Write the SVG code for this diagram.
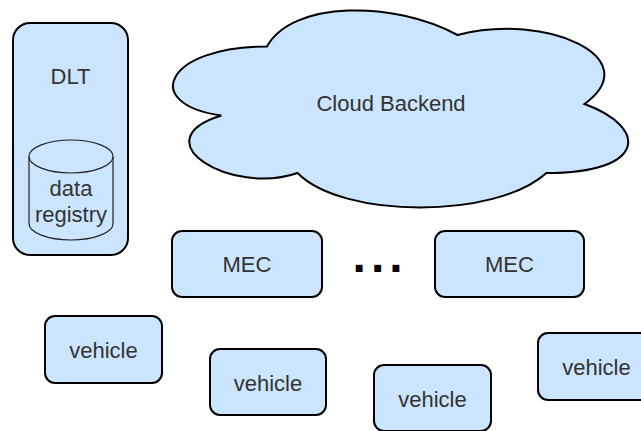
<svg xmlns="http://www.w3.org/2000/svg" width="641" height="431" viewBox="0 0 641 431">
  <style>
    .box { fill: #cce5ff; stroke: #000; stroke-width: 2; }
    .cyl { fill: #cce5ff; stroke: #222; stroke-width: 1.2; }
    .lbl { font-family: "Liberation Sans", Arial, sans-serif; font-size: 22px; fill: #333; text-anchor: middle; }
    .dots { font-family: "Liberation Sans", Arial, sans-serif; font-size: 48px; font-weight: bold; fill: #000; letter-spacing: 5px; }
  </style>
  <rect width="641" height="431" fill="#fff"/>

  <g id="dlt">
    <rect class="box" x="13" y="23" width="115" height="232" rx="17" ry="17"/>
    <text class="lbl" x="70.5" y="84">DLT</text>
  </g>

  <g id="data-registry">
    <path class="cyl" d="M29,156.5 A42,16.5 0 0 1 113,156.5 L113,223.5 A42,16.5 0 0 1 29,223.5 Z"/>
    <path class="cyl" fill="none" d="M29,156.5 A42,16.5 0 0 0 113,156.5"/>
    <text class="lbl" x="71" y="196">data</text>
    <text class="lbl" x="71" y="222">registry</text>
  </g>

  <g id="cloud-backend">
    <path class="box" d="M267,46.5 C165.4,46.5 140,104 221.3,115.5 C140,140.8 231.4,196 297.5,173 C343.2,219 495.6,219 546.4,173 C648,173 648,127 584.5,104 C648,58 546.4,12 457.5,35 C394,0.5 292.4,0.5 267,46.5 Z"/>
    <text class="lbl" x="391" y="111">Cloud Backend</text>
  </g>

  <g id="mec-1">
    <rect class="box" x="172" y="231" width="150" height="66" rx="10" ry="10"/>
    <text class="lbl" x="247" y="272">MEC</text>
  </g>

  <g id="ellipsis">
    <text class="dots" x="352.6" y="271.7">...</text>
  </g>

  <g id="mec-2">
    <rect class="box" x="435" y="231" width="149" height="66" rx="10" ry="10"/>
    <text class="lbl" x="509.5" y="272">MEC</text>
  </g>

  <g id="vehicle-1">
    <rect class="box" x="45" y="316" width="117" height="67" rx="10" ry="10"/>
    <text class="lbl" x="103.5" y="357.5">vehicle</text>
  </g>

  <g id="vehicle-2">
    <rect class="box" x="210" y="349" width="116" height="66" rx="10" ry="10"/>
    <text class="lbl" x="268" y="390.5">vehicle</text>
  </g>

  <g id="vehicle-3">
    <rect class="box" x="374" y="365" width="117" height="66" rx="10" ry="10"/>
    <text class="lbl" x="432.5" y="406.5">vehicle</text>
  </g>

  <g id="vehicle-4">
    <rect class="box" x="538" y="333" width="117" height="67" rx="10" ry="10"/>
    <text class="lbl" x="596.5" y="374.5">vehicle</text>
  </g>

  <g id="connectors"></g>
</svg>
